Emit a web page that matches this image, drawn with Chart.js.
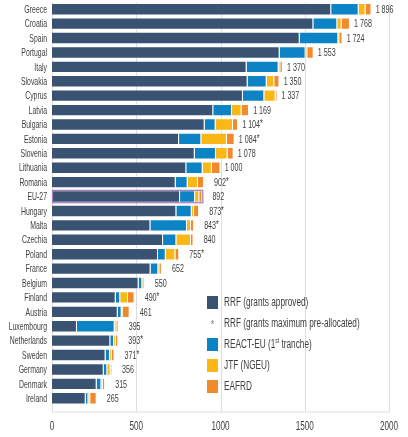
<!DOCTYPE html>
<html>
<head>
<meta charset="utf-8">
<script src="https://cdn.jsdelivr.net/npm/chart.js@4.4.0/dist/chart.umd.min.js"></script>
<style>
  html, body { margin: 0; padding: 0; background: #fff; }
  #wrap { width: 408px; height: 437px; }
</style>
</head>
<body>
<div id="wrap"><canvas id="chart" width="408" height="437"></canvas></div>
<script>
// Datos (EUR per capita)
const countries = ['Greece', 'Croatia', 'Spain', 'Portugal', 'Italy', 'Slovakia', 'Cyprus', 'Latvia',
  'Bulgaria', 'Estonia', 'Slovenia', 'Lithuania', 'Romania', 'EU-27', 'Hungary', 'Malta', 'Czechia',
  'Poland', 'France', 'Belgium', 'Finland', 'Austria', 'Luxembourg', 'Netherlands', 'Sweden',
  'Germany', 'Denmark', 'Ireland'];
const rrf = [1657, 1551, 1470, 1351, 1155, 1161, 1133, 957, 906, 754, 847, 797, 734, 760, 738, 584, 659,
  629, 585, 514, 378, 390, 148, 346, 318, 307, 265, 200];
const reactEu = [163, 142, 229, 154, 190, 113, 127, 111, 65, 132, 126, 97, 71, 89, 91, 217, 79,
  46, 46, 22, 27, 23, 224, 22, 26, 21, 28, 16];
const jtf = [41, 26, 6, 10, 10, 45, 67, 57, 103, 152, 69, 55, 61, 25, 14, 24, 87,
  57, 6, 6, 46, 8, 10, 10, 10, 20, 8, 11];
const eafrd = [35, 49, 19, 38, 15, 31, 10, 44, 30, 46, 36, 51, 36, 18, 30, 18, 15,
  23, 15, 8, 39, 40, 13, 15, 17, 8, 14, 38];
const totals = [1896, 1768, 1724, 1553, 1370, 1350, 1337, 1169, 1104, 1084, 1078, 1000, 902, 892, 873, 843, 840,
  755, 652, 550, 490, 461, 395, 393, 371, 356, 315, 265];
const preAllocated = ['Bulgaria', 'Estonia', 'Romania', 'Hungary', 'Malta', 'Poland', 'Finland', 'Netherlands', 'Sweden'];
const xTicks = [0, 500, 1000, 1500, 2000];
const seriesNames = ['RRF (grants approved)', 'REACT-EU (1st tranche)', 'JTF (NGEU)', 'EAFRD'];
const starLabel = 'RRF (grants maximum pre-allocated)';

const colors = ['#3b5373', '#0b83c4', '#fbb715', '#f08a2c'];
const FONT = "'Liberation Sans', Arial, sans-serif";
const TEXT = '#404040';
const GRID = '#dedede';

function fmt(n) {
    return String(n).replace(/\B(?=(\d{3})+(?!\d))/g, ' ');
}

// texto estrecho (fuente condensada simulada)
function narrowText(ctx, text, x, y, size, sx, align) {
    ctx.save();
    ctx.translate(x, y);
    ctx.scale(sx, 1);
    ctx.font = size + 'px ' + FONT;
    ctx.textAlign = align;
    ctx.fillText(text, 0, 0);
    const w = ctx.measureText(text).width * sx;
    ctx.restore();
    return w;
}

// Marco, rejilla y etiquetas de ejes
const framePlugin = {
    id: 'frame',
    beforeDatasetsDraw(chart) {
        const { ctx, chartArea, scales: { x, y } } = chart;
        const bottom = chartArea.bottom + 6;
        ctx.save();
        ctx.strokeStyle = GRID;
        ctx.lineWidth = 1;
        ctx.beginPath();
        xTicks.forEach(v => {
            const px = Math.round(x.getPixelForValue(v)) + 0.5;
            ctx.moveTo(px, chartArea.top);
            ctx.lineTo(px, bottom);
        });
        ctx.moveTo(x.getPixelForValue(0), bottom + 0.5);
        ctx.lineTo(x.getPixelForValue(2000) + 1, bottom + 0.5);
        ctx.stroke();

        ctx.fillStyle = TEXT;
        ctx.textBaseline = 'middle';
        xTicks.forEach(v => {
            narrowText(ctx, String(v), x.getPixelForValue(v), 427, 12, 0.68, 'center');
        });
        countries.forEach((c, i) => {
            narrowText(ctx, c, chartArea.left - 5, y.getPixelForValue(i) + 0.5, 11.5, 0.6, 'right');
        });
        ctx.restore();
    }
};

// Totales, contorno EU-27 y leyenda
const labelsPlugin = {
    id: 'totals',
    afterDatasetsDraw(chart) {
        const { ctx, chartArea, scales: { x } } = chart;
        const last = chart.getDatasetMeta(3).data;
        ctx.save();
        ctx.fillStyle = TEXT;
        ctx.textBaseline = 'middle';
        countries.forEach((c, i) => {
            const el = last[i];
            narrowText(ctx, fmt(totals[i]), el.x + 22, el.y + 0.5, 11.5, 0.62, 'right');
            if (preAllocated.includes(c)) {
                narrowText(ctx, '*', el.x + 22, el.y - 0.5, 11.5, 0.62, 'left');
            }
        });

        // contorno de la barra EU-27
        const eu = countries.indexOf('EU-27');
        const e = last[eu];
        const x0 = x.getPixelForValue(0);
        ctx.strokeStyle = '#a878b8';
        ctx.lineWidth = 1.2;
        ctx.strokeRect(x0 + 0.5, e.y - e.height / 2, e.x - x0, e.height);

        // leyenda
        const lx = chartArea.left + 155;
        let ly = chartArea.bottom - 103;
        const rows = [
            { color: colors[0], text: seriesNames[0] },
            { star: true, text: starLabel },
            { color: colors[1], text: seriesNames[1] },
            { color: colors[2], text: seriesNames[2] },
            { color: colors[3], text: seriesNames[3] }
        ];
        rows.forEach(r => {
            if (r.star) {
                ctx.fillStyle = '#777';
                narrowText(ctx, '*', lx + 5.5, ly + 1, 11, 0.8, 'center');
            } else {
                ctx.fillStyle = r.color;
                ctx.fillRect(lx, ly - 6.5, 11, 13);
            }
            ctx.fillStyle = TEXT;
            const tx = lx + 17;
            if (r.text.includes('1st')) {
                const parts = r.text.split('1st');
                let w = narrowText(ctx, parts[0] + '1', tx, ly, 12.5, 0.66, 'left');
                w += narrowText(ctx, 'st', tx + w, ly - 3.5, 7.5, 0.66, 'left');
                narrowText(ctx, parts[1], tx + w, ly, 12.5, 0.66, 'left');
            } else {
                narrowText(ctx, r.text, tx, ly, 12.5, 0.66, 'left');
            }
            ly += 21;
        });
        ctx.restore();
    }
};

const seriesData = [rrf, reactEu, jtf, eafrd];

new Chart(document.getElementById('chart'), {
    type: 'bar',
    data: {
        labels: countries,
        datasets: seriesData.map((d, k) => ({
            label: seriesNames[k],
            data: d,
            backgroundColor: colors[k],
            borderColor: 'rgba(255,255,255,0.45)',
            borderWidth: 1,
            barPercentage: 0.86,
            categoryPercentage: 1
        }))
    },
    options: {
        indexAxis: 'y',
        responsive: false,
        animation: false,
        layout: { padding: { top: 2, right: 19, bottom: 0, left: 0 } },
        plugins: {
            legend: { display: false },
            tooltip: { enabled: false }
        },
        scales: {
            x: {
                stacked: true,
                min: 0,
                max: 2000,
                afterFit: s => { s.height = 31.5; },
                grid: { display: false },
                border: { display: false },
                ticks: { display: false }
            },
            y: {
                stacked: true,
                afterFit: s => { s.width = 52; },
                grid: { display: false },
                border: { display: false },
                ticks: { display: false }
            }
        }
    },
    plugins: [framePlugin, labelsPlugin]
});
</script>
</body>
</html>
